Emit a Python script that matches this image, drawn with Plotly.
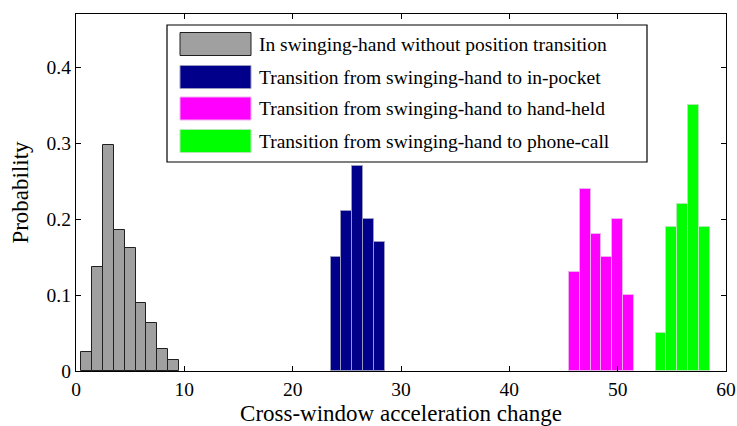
import plotly.graph_objects as go

# ---- data ----
gray_x = [1, 2, 3, 4, 5, 6, 7, 8, 9]
gray_y = [0.025, 0.137, 0.298, 0.186, 0.162, 0.089, 0.063, 0.029, 0.015]
blue_x = [24, 25, 26, 27, 28]
blue_y = [0.15, 0.21, 0.27, 0.20, 0.17]
mag_x = [46, 47, 48, 49, 50, 51]
mag_y = [0.13, 0.24, 0.18, 0.15, 0.20, 0.10]
green_x = [54, 55, 56, 57, 58]
green_y = [0.05, 0.19, 0.22, 0.35, 0.19]

names = [
    "In swinging-hand without position transition",
    "Transition from swinging-hand to in-pocket",
    "Transition from swinging-hand to hand-held",
    "Transition from swinging-hand to phone-call",
]
fills = ["#A0A0A0", "#00008B", "#FF00FF", "#00FF00"]
edges = ["#202020", "#9a9ac0", "#f0b0f0", "#b0e8b0"]

x_ticks = [0, 10, 20, 30, 40, 50, 60]
y_ticks = [0, 0.1, 0.2, 0.3, 0.4]
y_ticktext = ["0", "0.1", "0.2", "0.3", "0.4"]

FONT = "Liberation Serif, Times New Roman, serif"
FS = 19.5
W, H = 737, 426
L, R, T, B = 76, 11, 14, 55

fig = go.Figure()
for xs, ys, nm, fc, ec in zip([gray_x, blue_x, mag_x, green_x],
                              [gray_y, blue_y, mag_y, green_y],
                              names, fills, edges):
    fig.add_trace(go.Bar(x=xs, y=ys, name=nm, width=1.0,
                         marker=dict(color=fc, line=dict(color=ec, width=1)),
                         showlegend=False))

# custom legend (wide swatches like the reference)
pw, ph = W - L - R, H - T - B
def xp(px):
    return (px - L) / pw
def yp(py):
    return (H - B - py) / ph

shapes = [dict(type="rect", xref="paper", yref="paper",
               x0=xp(167), x1=xp(647), y0=yp(162), y1=yp(25),
               line=dict(color="black", width=1.2), fillcolor="white", layer="above")]
annotations = []
rows = [44, 77, 108.5, 141]
for rc, nm, fc, ec in zip(rows, names, fills, edges):
    shapes.append(dict(type="rect", xref="paper", yref="paper",
                       x0=xp(180), x1=xp(251), y0=yp(rc + 11.5), y1=yp(rc - 11.5),
                       line=dict(color=ec, width=1), fillcolor=fc, layer="above"))
    annotations.append(dict(xref="paper", yref="paper", x=xp(257), y=yp(rc),
                            xanchor="left", yanchor="middle", text=nm, showarrow=False,
                            font=dict(family=FONT, size=FS, color="black")))

fig.update_layout(
    width=W, height=H,
    margin=dict(l=L, r=R, t=T, b=B),
    paper_bgcolor="white", plot_bgcolor="white",
    barmode="overlay", bargap=0,
    font=dict(family=FONT, size=FS, color="black"),
    shapes=shapes, annotations=annotations,
    showlegend=False,
)
fig.update_xaxes(range=[0, 60], tickvals=x_ticks, ticks="inside", ticklen=5,
                 tickcolor="black", showline=True, linecolor="black", linewidth=1.3,
                 mirror="allticks", showgrid=False, zeroline=False, automargin=False,
                 title=dict(text="Cross-window acceleration change", standoff=9),
                 tickfont=dict(family=FONT, size=FS))
fig.update_yaxes(range=[0, 0.47], tickvals=y_ticks, ticktext=y_ticktext,
                 ticks="inside", ticklen=5,
                 tickcolor="black", showline=True, linecolor="black", linewidth=1.3,
                 mirror="allticks", showgrid=False, zeroline=False, automargin=False,
                 title=dict(text="Probability", standoff=11),
                 tickfont=dict(family=FONT, size=FS))

fig.write_html("out.html")
